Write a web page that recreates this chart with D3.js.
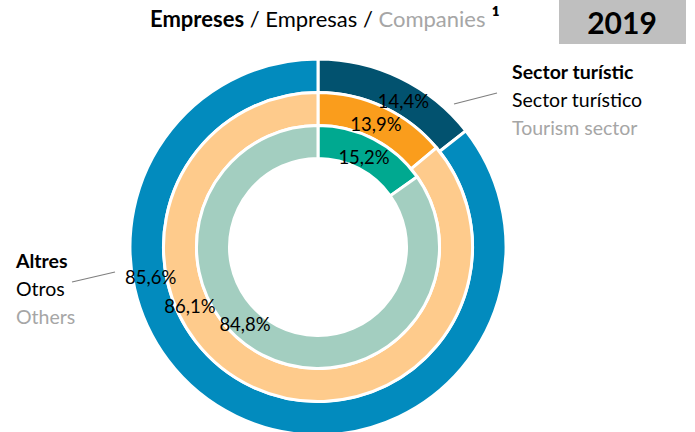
<!DOCTYPE html>
<html>
<head>
<meta charset="utf-8">
<script src="https://cdn.jsdelivr.net/npm/d3@7/dist/d3.min.js"></script>
<style>
  html, body { margin: 0; padding: 0; background: #fff; }
  svg { display: block; font-family: Lato, "Open Sans", sans-serif; }
</style>
</head>
<body>
<svg id="chart" width="695" height="432"></svg>
<script>
// Share of companies by sector, 2019 (three concentric rings, outer to inner)
const year = "2019";
const categories = ["Sector turístic", "Altres"];
const outerRing = [14.4, 85.6];
const middleRing = [13.9, 86.1];
const innerRing = [15.2, 84.8];

const titleParts = ["Empreses", " / Empresas / ", "Companies", " \u00b9"];
const tourismLegend = ["Sector turístic", "Sector turístico", "Tourism sector"];
const othersLegend = ["Altres", "Otros", "Others"];

// Ring geometry and colours
const W = 695, H = 432;
const cx = 318, cy = 247;
const rings = [
  { values: outerRing,  r0: 154.5, r1: 188,   colors: ["#02526F", "#028BBE"],
    labels: [{ f: 0.586, r: 169 }, { f: 0.675, r: 170 }] },
  { values: middleRing, r0: 121.5, r1: 154.5, colors: ["#FA9D1C", "#FECB8C"],
    labels: [{ f: 0.504, r: 136 }, { f: 0.63, r: 141 }] },
  { values: innerRing,  r0: 88.5,  r1: 121.5, colors: ["#00A990", "#A3CEC0"],
    labels: [{ f: 0.495, r: 101 }, { f: 0.553, r: 106 }] }
];

const svg = d3.select("#chart");
const fmt = v => d3.format(".1f")(v).replace(".", ",") + "%";

const pie = d3.pie().sort(null).value(d => d);
const g = svg.append("g").attr("transform", `translate(${cx},${cy})`);

rings.forEach(ring => {
  const arc = d3.arc().innerRadius(ring.r0).outerRadius(ring.r1);
  const slices = pie(ring.values);
  g.append("g").selectAll("path")
    .data(slices)
    .join("path")
    .attr("d", arc)
    .attr("fill", (d, i) => ring.colors[i])
    .attr("stroke", "#fff")
    .attr("stroke-width", 3)
    .attr("stroke-linejoin", "miter");
});

// Value labels placed inside each slice
rings.forEach(ring => {
  const slices = pie(ring.values);
  slices.forEach((s, i) => {
    const p = ring.labels[i];
    const a = s.startAngle + (s.endAngle - s.startAngle) * p.f;
    g.append("text")
      .attr("x", p.r * Math.sin(a))
      .attr("y", -p.r * Math.cos(a))
      .attr("text-anchor", "middle")
      .attr("dominant-baseline", "central")
      .attr("font-size", 18.5)
      .attr("fill", "#000")
      .text(fmt(s.data));
  });
});

// Title
const title = svg.append("text")
  .attr("x", 150).attr("y", 27)
  .attr("font-size", 22);
const titleStyles = [
  { w: 700, c: "#000" }, { w: 400, c: "#000" }, { w: 400, c: "#A6A6A6" }, { w: 700, c: "#000" }
];
titleParts.forEach((t, i) => {
  const ts = title.append("tspan")
    .attr("font-weight", titleStyles[i].w)
    .attr("fill", titleStyles[i].c)
    .text(t);
  if (i === 3) ts.attr("font-size", 25);
});

// Year box
svg.append("rect")
  .attr("x", 559).attr("y", 0).attr("width", 127).attr("height", 44)
  .attr("fill", "#BFBFBF");
svg.append("text")
  .attr("x", 622).attr("y", 22)
  .attr("text-anchor", "middle").attr("dominant-baseline", "central")
  .attr("font-size", 30).attr("font-weight", 700).attr("fill", "#000")
  .text(year);

// Category legends with leader lines
const legendColors = ["#000", "#000", "#A6A6A6"];
const legendWeights = [700, 400, 400];
function legend(lines, x, yTop) {
  lines.forEach((t, i) => {
    svg.append("text")
      .attr("x", x).attr("y", yTop + i * 28)
      .attr("dominant-baseline", "central")
      .attr("font-size", 19.5)
      .attr("font-weight", legendWeights[i])
      .attr("fill", legendColors[i])
      .text(t);
  });
}
legend(tourismLegend, 512, 71);
legend(othersLegend, 16, 260);

svg.append("line")
  .attr("x1", 454).attr("y1", 104).attr("x2", 497).attr("y2", 93)
  .attr("stroke", "#7F7F7F").attr("stroke-width", 1.2);
svg.append("line")
  .attr("x1", 72).attr("y1", 282).attr("x2", 115).attr("y2", 272)
  .attr("stroke", "#7F7F7F").attr("stroke-width", 1.2);
</script>
</body>
</html>
